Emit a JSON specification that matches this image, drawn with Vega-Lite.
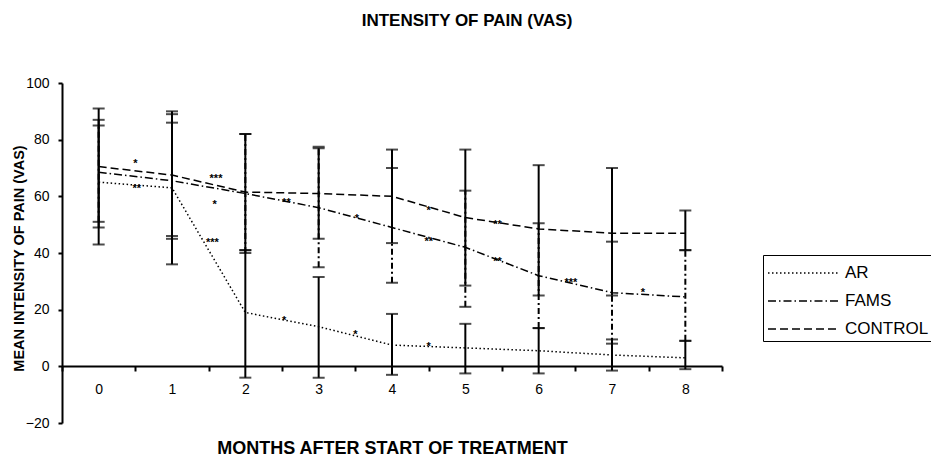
{
  "$schema": "https://vega.github.io/schema/vega-lite/v6.json",
  "width": 660,
  "height": 340,
  "autosize": {"type": "none"},
  "padding": {"left": 62, "top": 83, "right": 209, "bottom": 34},
  "background": "white",
  "config": {
    "font": "Liberation Sans",
    "view": {"stroke": null},
    "axis": {"domainColor": "black", "tickColor": "black", "labelColor": "black", "titleColor": "black", "grid": false, "domainWidth": 2, "tickWidth": 2}
  },
  "title": {"text": "INTENSITY OF PAIN (VAS)", "fontSize": 17, "fontWeight": "bold", "anchor": "middle", "dx": 75, "offset": 46, "color": "black"},
  "datasets": {
    "series": [
      {"group": "AR", "month": 0, "mean": 65, "lo": 43, "hi": 87},
      {"group": "AR", "month": 1, "mean": 63, "lo": 36, "hi": 90},
      {"group": "AR", "month": 2, "mean": 19, "lo": -4, "hi": 41},
      {"group": "AR", "month": 3, "mean": 14, "lo": -4, "hi": 31.5},
      {"group": "AR", "month": 4, "mean": 7.5, "lo": -3, "hi": 18.5},
      {"group": "AR", "month": 5, "mean": 6.5, "lo": -2.5, "hi": 15},
      {"group": "AR", "month": 6, "mean": 5.5, "lo": -2.5, "hi": 13.5},
      {"group": "AR", "month": 7, "mean": 4, "lo": -1.5, "hi": 9.5},
      {"group": "AR", "month": 8, "mean": 3, "lo": -1, "hi": 9},
      {"group": "FAMS", "month": 0, "mean": 68.5, "lo": 51, "hi": 85},
      {"group": "FAMS", "month": 1, "mean": 65.5, "lo": 46, "hi": 86},
      {"group": "FAMS", "month": 2, "mean": 61, "lo": 40, "hi": 82},
      {"group": "FAMS", "month": 3, "mean": 56, "lo": 35, "hi": 77.5},
      {"group": "FAMS", "month": 4, "mean": 49, "lo": 29.5, "hi": 70},
      {"group": "FAMS", "month": 5, "mean": 42, "lo": 21, "hi": 62},
      {"group": "FAMS", "month": 6, "mean": 32, "lo": 13.5, "hi": 50.5},
      {"group": "FAMS", "month": 7, "mean": 26, "lo": 8, "hi": 44},
      {"group": "FAMS", "month": 8, "mean": 24.5, "lo": 9, "hi": 41},
      {"group": "CONTROL", "month": 0, "mean": 70.5, "lo": 49, "hi": 91},
      {"group": "CONTROL", "month": 1, "mean": 67.5, "lo": 45, "hi": 89},
      {"group": "CONTROL", "month": 2, "mean": 61.5, "lo": 41, "hi": 82},
      {"group": "CONTROL", "month": 3, "mean": 61, "lo": 45, "hi": 77},
      {"group": "CONTROL", "month": 4, "mean": 60, "lo": 43.5, "hi": 76.5},
      {"group": "CONTROL", "month": 5, "mean": 52.5, "lo": 28.5, "hi": 76.5},
      {"group": "CONTROL", "month": 6, "mean": 48.5, "lo": 25, "hi": 71},
      {"group": "CONTROL", "month": 7, "mean": 47, "lo": 25, "hi": 70},
      {"group": "CONTROL", "month": 8, "mean": 47, "lo": 41, "hi": 55}
    ],
    "stars": [
      {"x": 0.5, "y": 71.5, "label": "*"},
      {"x": 0.52, "y": 62.5, "label": "**"},
      {"x": 1.6, "y": 66, "label": "***"},
      {"x": 1.58, "y": 57, "label": "*"},
      {"x": 1.55, "y": 43.5, "label": "***"},
      {"x": 2.56, "y": 57.5, "label": "**"},
      {"x": 2.53, "y": 16, "label": "*"},
      {"x": 3.52, "y": 52, "label": "*"},
      {"x": 3.5, "y": 11, "label": "*"},
      {"x": 4.5, "y": 55, "label": "*"},
      {"x": 4.5, "y": 44, "label": "**"},
      {"x": 4.5, "y": 7, "label": "*"},
      {"x": 5.44, "y": 50, "label": "**"},
      {"x": 5.44, "y": 37, "label": "**"},
      {"x": 6.44, "y": 29.5, "label": "***"},
      {"x": 7.42, "y": 26, "label": "*"}
    ]
  },
  "layer": [
    {
      "data": {"name": "series"},
      "mark": {"type": "line", "color": "black", "strokeWidth": 1.5},
      "encoding": {
        "x": {
          "field": "month", "type": "quantitative",
          "title": "MONTHS AFTER START OF TREATMENT",
          "scale": {"domain": [-0.5, 8.5], "nice": false, "zero": false},
          "axis": {
            "values": [-0.5, 0.5, 1.5, 2.5, 3.5, 4.5, 5.5, 6.5, 7.5, 8.5],
            "labelExpr": "datum.value < 8 ? format(datum.value + 0.5, 'd') : ''",
            "labelOffset": 36.67, "labelFlush": false, "labelOverlap": false, "labelBound": false,
            "ticks": true, "tickSize": 5, "tickColor": "black", "tickWidth": 2,
            "labelPadding": 11, "labelFontSize": 14,
            "offset": -57,
            "titleFontSize": 18, "titleFontWeight": "bold", "titlePadding": 43
          }
        },
        "y": {
          "field": "mean", "type": "quantitative",
          "title": "MEAN INTENSITY OF PAIN (VAS)",
          "scale": {"domain": [-20, 100], "nice": false, "zero": false},
          "axis": {
            "values": [-20, 0, 20, 40, 60, 80, 100],
            "tickSize": 4, "labelPadding": 9, "labelFontSize": 14,
            "titleFontSize": 14.5, "titleFontWeight": "bold",
            "titleX": -36, "titleY": 175
          }
        },
        "strokeDash": {
          "field": "group", "type": "nominal",
          "scale": {"domain": ["AR", "FAMS", "CONTROL"], "range": [[1.5, 2.5], [8, 3, 1.5, 3], [8, 4]]},
          "legend": {
            "orient": "none", "legendX": 701, "legendY": 172, "title": null,
            "strokeColor": "black", "padding": 4,
            "labelFontSize": 17, "labelColor": "black", "labelOffset": 50,
            "symbolType": "M-1,0H4.46", "symbolStrokeColor": "black", "symbolStrokeWidth": 1.5, "symbolSize": 676,
            "rowPadding": 6
          }
        }
      }
    },
    {
      "data": {"name": "series"},
      "transform": [{"filter": "datum.group !== 'FAMS'"}],
      "mark": {"type": "errorbar", "ticks": {"size": 12, "thickness": 2, "color": "black"}, "rule": {"strokeWidth": 2, "color": "black"}},
      "encoding": {
        "x": {"field": "month", "type": "quantitative", "title": "MONTHS AFTER START OF TREATMENT"},
        "y": {"field": "lo", "type": "quantitative", "title": "MEAN INTENSITY OF PAIN (VAS)"},
        "y2": {"field": "hi"}
      }
    },
    {
      "data": {"name": "series"},
      "transform": [{"filter": "datum.group === 'FAMS'"}],
      "mark": {"type": "errorbar", "ticks": {"size": 12, "thickness": 2, "color": "black"}, "rule": {"strokeWidth": 2, "color": "black", "strokeDash": [6, 3, 2, 3]}},
      "encoding": {
        "x": {"field": "month", "type": "quantitative", "title": "MONTHS AFTER START OF TREATMENT"},
        "y": {"field": "lo", "type": "quantitative", "title": "MEAN INTENSITY OF PAIN (VAS)"},
        "y2": {"field": "hi"}
      }
    },
    {
      "data": {"name": "stars"},
      "mark": {"type": "text", "fontSize": 11, "fontWeight": "bold", "fill": "black"},
      "encoding": {
        "x": {"field": "x", "type": "quantitative", "title": "MONTHS AFTER START OF TREATMENT"},
        "y": {"field": "y", "type": "quantitative", "title": "MEAN INTENSITY OF PAIN (VAS)"},
        "text": {"field": "label"}
      }
    }
  ]
}
